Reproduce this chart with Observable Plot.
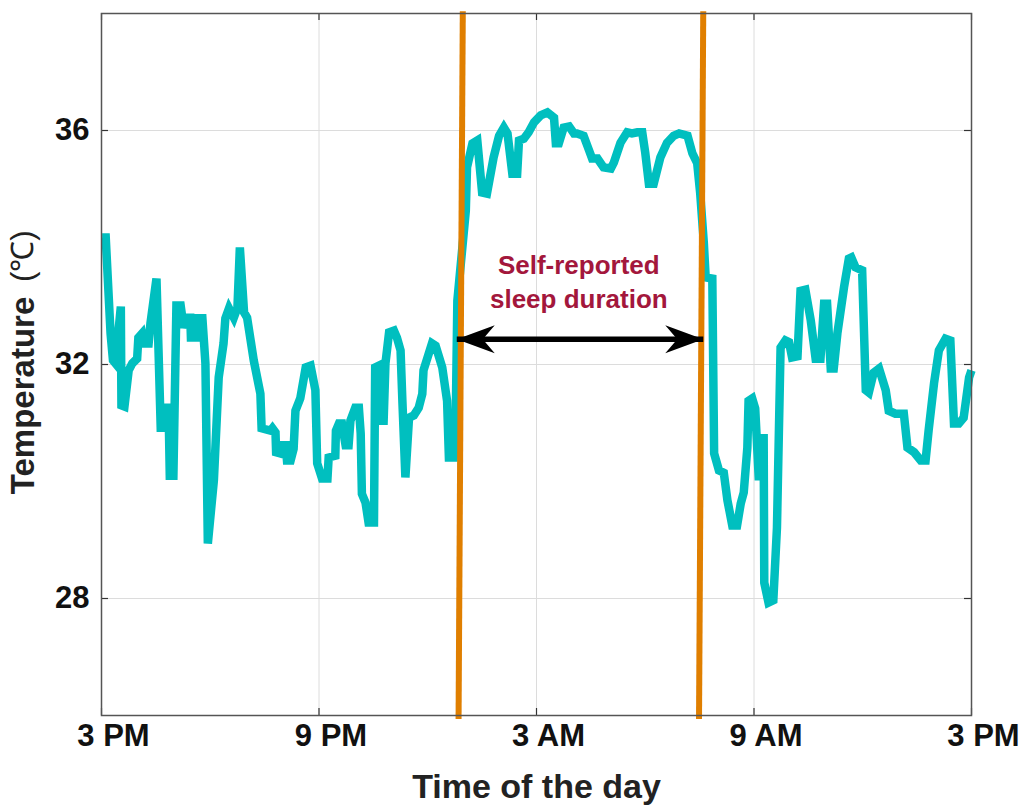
<!DOCTYPE html>
<html>
<head>
<meta charset="utf-8">
<script src="https://cdn.jsdelivr.net/npm/d3@7"></script>
<script src="https://cdn.jsdelivr.net/npm/@observablehq/plot@0.6"></script>
<style>
  body { margin: 0; background: #fff; }
  #chart svg { display: block; }
</style>
</head>
<body>
<div id="chart"></div>
<script>
// Skin temperature over one day (3 PM to 3 PM), sampled every few minutes.
const clock = [
  "15:01","15:07","15:15","15:19","15:23","15:32","15:33","15:38","15:45","15:51",
  "15:59","16:01","16:07","16:10","16:18","16:21","16:31","16:38","16:41","16:44",
  "16:51","16:53","16:59","17:04","17:11","17:16","17:22","17:27","17:28","17:36",
  "17:38","17:47","17:52","17:56","18:06","18:14","18:22","18:25","18:31","18:39",
  "18:45","18:49","18:56","19:01","19:12","19:23","19:25","19:40","19:43","19:48",
  "19:49","19:56","19:59","20:05","20:07","20:13","20:18","20:21","20:29","20:38",
  "20:46","20:54","20:57","21:05","21:14","21:16","21:27","21:28","21:33","21:38",
  "21:44","21:49","21:52","22:00","22:06","22:09","22:11","22:17","22:22","22:31",
  "22:33","22:39","22:42","22:47","22:50","22:56","23:04","23:09","23:15","23:18",
  "23:23","23:29","23:37","23:45","23:51","23:53","00:07","00:13","00:24","00:32",
  "00:35","00:43","00:46","00:49","01:03","01:05","01:14","01:22","01:30","01:38",
  "01:49","01:58","02:06","02:12","02:20","02:28","02:31","02:39","02:47","02:56",
  "03:07","03:18","03:29","03:32","03:37","03:45","03:54","04:02","04:07","04:18",
  "04:27","04:32","04:41","04:51","05:03","05:08","05:19","05:30","05:38","05:47",
  "05:55","06:00","06:06","06:14","06:25","06:36","06:47","06:56","07:10","07:18",
  "07:26","07:31","07:37","07:40","07:51","07:54","08:02","08:10","08:16","08:24",
  "08:32","08:38","08:43","08:49","08:51","08:57","09:02","09:08","09:12","09:16",
  "09:17","09:24","09:32","09:38","09:44","09:52","09:58","10:03","10:12","10:17",
  "10:25","10:34","10:42","10:50","10:56","11:01","11:07","11:12","11:18","11:29",
  "11:37","11:41","11:48","11:59","12:05","12:10","12:18","12:27","12:38","12:43",
  "12:54","13:08","13:14","13:25","13:36","13:44","13:49","13:58","14:06","14:17",
  "14:25","14:31","14:39","14:47","14:56","15:00"
];

const temperature = [
  34.17,34.17,32.53,32.07,32.02,32.99,31.30,31.28,31.90,32.02,
  32.10,32.46,32.53,32.36,32.36,32.70,33.47,30.92,30.92,31.26,
  31.26,30.10,30.10,33.01,33.01,32.63,32.80,32.80,32.46,32.46,
  32.79,32.79,32.02,28.94,30.02,31.78,32.36,32.79,32.96,32.80,
  32.97,34.00,32.89,32.80,32.07,31.50,30.91,30.87,30.91,30.84,
  30.50,30.48,30.62,30.62,30.36,30.36,30.56,31.21,31.42,31.95,
  31.98,31.56,30.31,30.05,30.05,30.41,30.44,30.87,30.99,30.99,
  30.62,30.62,31.04,31.26,31.26,30.82,29.79,29.64,29.30,29.30,
  31.95,31.98,31.04,31.04,32.02,32.55,32.58,32.46,32.24,31.38,
  30.07,31.09,31.13,31.26,31.50,31.90,32.36,32.32,31.95,31.38,
  30.41,30.41,30.82,33.09,34.63,35.37,35.78,35.83,34.94,34.92,
  35.54,35.91,36.05,35.95,35.26,35.26,35.83,35.86,35.97,36.14,
  36.26,36.31,36.22,35.78,35.78,36.05,36.07,35.95,35.95,35.91,
  35.66,35.52,35.52,35.37,35.35,35.45,35.79,35.97,35.95,35.97,
  35.97,35.62,35.09,35.09,35.54,35.79,35.91,35.95,35.91,35.61,
  35.44,34.92,34.07,33.49,33.47,30.48,30.19,30.15,29.68,29.25,
  29.25,29.62,29.81,30.58,31.38,31.42,31.25,30.02,30.74,30.74,
  28.27,27.93,27.97,29.21,32.29,32.41,32.38,32.12,32.14,33.26,
  33.28,32.75,32.10,32.10,33.04,33.04,31.93,31.93,32.53,33.32,
  33.81,33.83,33.66,33.61,31.56,31.52,31.86,31.93,31.56,31.21,
  31.16,31.16,30.58,30.50,30.36,30.36,30.87,31.68,32.24,32.44,
  32.41,30.99,30.99,31.09,31.78,31.90
];

// Axis ticks
const tickClock = ["15:00", "21:00", "03:00", "09:00", "15:00"];
const temperatureTicks = [28, 32, 36];

// Self-reported sleep onset and wake-up (lines lean slightly: bottom, top)
const sleepBottom = ["00:51", "07:29"];
const sleepTop = ["00:58", "07:36"];
const sleepSpan = ["00:48", "07:36"];
const sleepArrowLevel = 32.43;
const noteText = "Self-reported\nsleep duration";
const noteClock = "04:10";
const noteLevel = 33.44;

// Turn clock strings into dates, rolling over to the next day after midnight.
function toTimes(list) {
  let day = 0, prev = -1;
  return list.map((s) => {
    const [h, m] = s.split(":").map(Number);
    const mins = h * 60 + m;
    if (mins < prev) day++;
    prev = mins;
    return new Date(Date.UTC(2000, 0, 1 + day, h, m));
  });
}
function nextDay(s) {
  const [h, m] = s.split(":").map(Number);
  return new Date(Date.UTC(2000, 0, 2, h, m));
}

const times = toTimes(clock);
const series = times.map((t, i) => ({time: t, temp: temperature[i]}));
const xTicks = toTimes(tickClock);
const sleepLines = sleepBottom.map((b, i) => ({bottom: nextDay(b), top: nextDay(sleepTop[i])}));
const arrowLeft = nextDay(sleepSpan[0]);
const arrowRight = nextDay(sleepSpan[1]);

const W = 1021, H = 805;
const mTop = 13, mRight = 50, mBottom = 90, mLeft = 101;
const innerW = W - mLeft - mRight;
const innerH = H - mTop - mBottom;
const tickLen = 7;

// Filled, swept-back arrowhead pointing up with its tip at the origin.
const arrowHead = {
  draw(context) {
    context.moveTo(0, 0);
    context.lineTo(14, 38);
    context.lineTo(0, 26);
    context.lineTo(-14, 38);
    context.closePath();
  }
};

const fmt = d3.utcFormat("%-I %p");
const font = "'Liberation Sans', Arial, sans-serif";

const chart = Plot.plot({
  width: W,
  height: H,
  marginTop: mTop,
  marginRight: mRight,
  marginBottom: mBottom,
  marginLeft: mLeft,
  style: {fontFamily: font, background: "#fff", color: "#111"},
  x: {type: "utc", domain: [xTicks[0], xTicks[xTicks.length - 1]]},
  y: {domain: [26, 38]},
  marks: [
    Plot.gridX(xTicks, {stroke: "#dcdcdc", strokeOpacity: 1, strokeWidth: 1}),
    Plot.gridY(temperatureTicks, {stroke: "#dcdcdc", strokeOpacity: 1, strokeWidth: 1}),
    // inward tick marks on all four sides
    Plot.tickX(xTicks, {x: (d) => d, insetTop: innerH - tickLen, stroke: "#333", strokeWidth: 1.2}),
    Plot.tickX(xTicks, {x: (d) => d, insetBottom: innerH - tickLen, stroke: "#333", strokeWidth: 1.2}),
    Plot.tickY(temperatureTicks, {y: (d) => d, insetRight: innerW - tickLen, stroke: "#333", strokeWidth: 1.2}),
    Plot.tickY(temperatureTicks, {y: (d) => d, insetLeft: innerW - tickLen, stroke: "#333", strokeWidth: 1.2}),
    Plot.axisX(xTicks, {
      tickSize: 0, tickPadding: 8, tickFormat: fmt, label: null,
      fontSize: 31, fontWeight: "bold", fill: "#111", dx: 12
    }),
    Plot.axisY(temperatureTicks, {
      tickSize: 0, tickPadding: 12, label: null, tickFormat: d3.format("d"),
      fontSize: 31, fontWeight: "bold", fill: "#111"
    }),
    Plot.line(series, {
      x: "time", y: "temp", stroke: "#00bfbf", strokeWidth: 8.5,
      strokeLinejoin: "miter", strokeLinecap: "butt", strokeMiterlimit: 4
    }),
    Plot.link(sleepLines, {
      x1: "bottom", x2: "top", y1: 25.94, y2: 38.04,
      stroke: "#e07f00", strokeWidth: 6, clip: false
    }),
    Plot.link([0], {
      x1: arrowLeft, x2: arrowRight, y1: sleepArrowLevel, y2: sleepArrowLevel,
      stroke: "#000", strokeWidth: 5.5, insetLeft: 20, insetRight: 20
    }),
    Plot.dot([arrowLeft, arrowRight], {
      x: (d) => d, y: sleepArrowLevel, symbol: arrowHead, r: 10,
      fill: "#000", stroke: "none", rotate: (d, i) => (i === 0 ? -90 : 90)
    }),
    Plot.text([noteText], {
      x: nextDay(noteClock), y: noteLevel, text: (d) => d,
      fontSize: 26, fontWeight: "bold", fill: "#a3173c", lineHeight: 1.3
    }),
    Plot.text(["Time of the day"], {
      frameAnchor: "bottom", dy: 72, lineAnchor: "middle",
      fontSize: 34, fontWeight: "bold", fill: "#222"
    }),
    Plot.text(["Temperature"], {
      frameAnchor: "left", y: 31.47, dx: -78, rotate: -90,
      textAnchor: "middle", lineAnchor: "middle",
      fontSize: 33, fontWeight: "bold", fill: "#222"
    }),
    Plot.text(["(℃)"], {
      frameAnchor: "left", y: 33.85, dx: -78, rotate: -90,
      textAnchor: "middle", lineAnchor: "middle",
      fontSize: 31, fill: "#222"
    }),
    Plot.frame({stroke: "#555", strokeWidth: 1.5})
  ]
});

document.getElementById("chart").append(chart);
</script>
</body>
</html>
